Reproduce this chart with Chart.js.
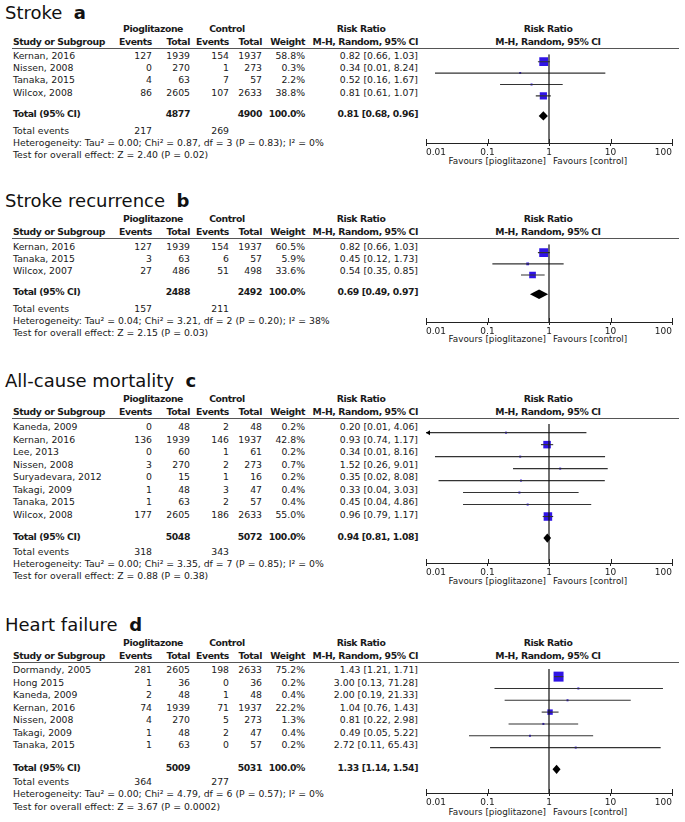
<!DOCTYPE html>
<html>
<head>
<meta charset="utf-8">
<script src="https://cdn.jsdelivr.net/npm/chart.js@4/dist/chart.umd.min.js"></script>
<style>
html, body { margin: 0; padding: 0; background: #fff; overflow: hidden; }
#page { position: relative; width: 685px; height: 822px; font-family: "DejaVu Sans", sans-serif; color: #1a1a1a; }
.t { position: absolute; white-space: nowrap; line-height: 1; font-size: 9.3px; }
.b { font-weight: bold; letter-spacing: -0.4px; }
.sm { font-size: 8.8px; }
.title { font-size: 18px; color: #111; }
.title b { letter-spacing: 0; }
.rule { position: absolute; left: 12px; width: 667px; height: 0; border-top: 1px solid #555; }
.plot { position: absolute; left: 410px; width: 274px; }
</style>
</head>
<body>
<div id="page"></div>
<script>
// ---- a: Stroke
var strokeStudies = ['Kernan, 2016', 'Nissen, 2008', 'Tanaka, 2015', 'Wilcox, 2008'];
var strokePioEvents = [127, 0, 4, 86];
var strokePioTotal = [1939, 270, 63, 2605];
var strokeCtlEvents = [154, 1, 7, 107];
var strokeCtlTotal = [1937, 273, 57, 2633];
var strokeWeight = [58.8, 0.3, 2.2, 38.8];
var strokeRR = [0.82, 0.34, 0.52, 0.81];
var strokeLo = [0.66, 0.014, 0.16, 0.61];
var strokeHi = [1.03, 8.24, 1.67, 1.07];
var strokePooled = [0.81, 0.68, 0.96];
var strokeTotals = [4877, 4900];
var strokeTotalEvents = [217, 269];
var strokeHet = 'Heterogeneity: Tau² = 0.00; Chi² = 0.87, df = 3 (P = 0.83); I² = 0%';
var strokeTest = 'Test for overall effect: Z = 2.40 (P = 0.02)';

// ---- b: Stroke recurrence
var recurStudies = ['Kernan, 2016', 'Tanaka, 2015', 'Wilcox, 2007'];
var recurPioEvents = [127, 3, 27];
var recurPioTotal = [1939, 63, 486];
var recurCtlEvents = [154, 6, 51];
var recurCtlTotal = [1937, 57, 498];
var recurWeight = [60.5, 5.9, 33.6];
var recurRR = [0.82, 0.45, 0.54];
var recurLo = [0.66, 0.12, 0.35];
var recurHi = [1.03, 1.73, 0.85];
var recurPooled = [0.69, 0.49, 0.97];
var recurTotals = [2488, 2492];
var recurTotalEvents = [157, 211];
var recurHet = 'Heterogeneity: Tau² = 0.04; Chi² = 3.21, df = 2 (P = 0.20); I² = 38%';
var recurTest = 'Test for overall effect: Z = 2.15 (P = 0.03)';

// ---- c: All-cause mortality
var mortStudies = ['Kaneda, 2009', 'Kernan, 2016', 'Lee, 2013', 'Nissen, 2008', 'Suryadevara, 2012', 'Takagi, 2009', 'Tanaka, 2015', 'Wilcox, 2008'];
var mortPioEvents = [0, 136, 0, 3, 0, 1, 1, 177];
var mortPioTotal = [48, 1939, 60, 270, 15, 48, 63, 2605];
var mortCtlEvents = [2, 146, 1, 2, 1, 3, 2, 186];
var mortCtlTotal = [48, 1937, 61, 273, 16, 47, 57, 2633];
var mortWeight = [0.2, 42.8, 0.2, 0.7, 0.2, 0.4, 0.4, 55.0];
var mortRR = [0.20, 0.93, 0.34, 1.52, 0.35, 0.33, 0.45, 0.96];
var mortLo = [0.0098, 0.74, 0.014, 0.26, 0.016, 0.04, 0.04, 0.79];
var mortHi = [4.06, 1.17, 8.16, 9.01, 8.08, 3.03, 4.86, 1.17];
var mortPooled = [0.94, 0.81, 1.08];
var mortTotals = [5048, 5072];
var mortTotalEvents = [318, 343];
var mortHet = 'Heterogeneity: Tau² = 0.00; Chi² = 3.35, df = 7 (P = 0.85); I² = 0%';
var mortTest = 'Test for overall effect: Z = 0.88 (P = 0.38)';

// ---- d: Heart failure
var hfStudies = ['Dormandy, 2005', 'Hong 2015', 'Kaneda, 2009', 'Kernan, 2016', 'Nissen, 2008', 'Takagi, 2009', 'Tanaka, 2015'];
var hfPioEvents = [281, 1, 2, 74, 4, 1, 1];
var hfPioTotal = [2605, 36, 48, 1939, 270, 48, 63];
var hfCtlEvents = [198, 0, 1, 71, 5, 2, 0];
var hfCtlTotal = [2633, 36, 48, 1937, 273, 47, 57];
var hfWeight = [75.2, 0.2, 0.4, 22.2, 1.3, 0.4, 0.2];
var hfRR = [1.43, 3.00, 2.00, 1.04, 0.81, 0.49, 2.72];
var hfLo = [1.21, 0.13, 0.19, 0.76, 0.22, 0.05, 0.11];
var hfHi = [1.71, 71.28, 21.33, 1.43, 2.98, 5.22, 65.43];
var hfPooled = [1.33, 1.14, 1.54];
var hfTotals = [5009, 5031];
var hfTotalEvents = [364, 277];
var hfHet = 'Heterogeneity: Tau² = 0.00; Chi² = 4.79, df = 6 (P = 0.57); I² = 0%';
var hfTest = 'Test for overall effect: Z = 3.67 (P = 0.0002)';

var tickVals = [0.01, 0.1, 1, 10, 100];
var tickLabels = ['0.01', '0.1', '1', '10', '100'];

var panels = [
  {title: 'Stroke', letter: 'a', studies: strokeStudies, pioE: strokePioEvents, pioT: strokePioTotal, ctlE: strokeCtlEvents, ctlT: strokeCtlTotal, wt: strokeWeight, rr: strokeRR, lo: strokeLo, hi: strokeHi, pooled: strokePooled, totals: strokeTotals, tev: strokeTotalEvents, het: strokeHet, test: strokeTest,
   L: {title: 13, h1: 29, h2: 42, line: 48, row0: 56, step: 12.2, total: 114, te: 131, het: 142.5, test: 155, axis: 143, fav: 161}},
  {title: 'Stroke recurrence', letter: 'b', studies: recurStudies, pioE: recurPioEvents, pioT: recurPioTotal, ctlE: recurCtlEvents, ctlT: recurCtlTotal, wt: recurWeight, rr: recurRR, lo: recurLo, hi: recurHi, pooled: recurPooled, totals: recurTotals, tev: recurTotalEvents, het: recurHet, test: recurTest,
   L: {title: 201, h1: 219, h2: 232, line: 238, row0: 247, step: 12.1, total: 292, te: 309, het: 321, test: 333, axis: 322, fav: 339}},
  {title: 'All-cause mortality', letter: 'c', studies: mortStudies, pioE: mortPioEvents, pioT: mortPioTotal, ctlE: mortCtlEvents, ctlT: mortCtlTotal, wt: mortWeight, rr: mortRR, lo: mortLo, hi: mortHi, pooled: mortPooled, totals: mortTotals, tev: mortTotalEvents, het: mortHet, test: mortTest,
   L: {title: 381, h1: 399, h2: 412, line: 418, row0: 427, step: 12.5, total: 537, te: 552, het: 563.5, test: 576, axis: 563, fav: 581}},
  {title: 'Heart failure', letter: 'd', studies: hfStudies, pioE: hfPioEvents, pioT: hfPioTotal, ctlE: hfCtlEvents, ctlT: hfCtlTotal, wt: hfWeight, rr: hfRR, lo: hfLo, hi: hfHi, pooled: hfPooled, totals: hfTotals, tev: hfTotalEvents, het: hfHet, test: hfTest,
   L: {title: 625, h1: 643, h2: 656, line: 662, row0: 670, step: 12.5, total: 768, te: 782, het: 794, test: 807, axis: 793, fav: 812}}
];

var col = {study: 13, pioE: 152, pioT: 190, ctlE: 229, ctlT: 262, wt: 305, rr: 418};
var page = document.getElementById('page');

function txt(x, y, s, align, cls) {
  var el = document.createElement('div');
  el.className = 't' + (cls ? ' ' + cls : '');
  el.textContent = s;
  el.style.left = x + 'px';
  el.style.top = y + 'px';
  var tx = align == 'r' ? '-100%' : (align == 'c' ? '-50%' : '0');
  el.style.transform = 'translate(' + tx + ',-50%)';
  page.appendChild(el);
  return el;
}
function ci(r, l, h) { return r.toFixed(2) + ' [' + l.toFixed(2) + ', ' + h.toFixed(2) + ']'; }

var forestExtras = {
  id: 'forestExtras',
  afterDatasetsDraw: function(chart, args, opts) {
    var xs = chart.scales.x, ys = chart.scales.y, ctx = chart.ctx;
    ctx.save();
    ctx.fillStyle = '#000';
    // pooled diamond
    var yc = ys.getPixelForValue(opts.totalRow);
    ctx.beginPath();
    ctx.moveTo(xs.getPixelForValue(opts.pooled[1]), yc);
    ctx.lineTo(xs.getPixelForValue(opts.pooled[0]), yc - opts.dh);
    ctx.lineTo(xs.getPixelForValue(opts.pooled[2]), yc);
    ctx.lineTo(xs.getPixelForValue(opts.pooled[0]), yc + opts.dh);
    ctx.closePath();
    ctx.fill();
    // arrows for CIs running off the scale
    opts.lo.forEach(function(v, i) {
      if (v < xs.min) {
        var y = ys.getPixelForValue(i), x = xs.left;
        ctx.beginPath();
        ctx.moveTo(x, y); ctx.lineTo(x + 4, y - 2.5); ctx.lineTo(x + 4, y + 2.5);
        ctx.closePath(); ctx.fill();
      }
    });
    // upper half of the axis tick marks
    ctx.strokeStyle = '#222';
    ctx.lineWidth = 1;
    ctx.beginPath();
    tickVals.forEach(function(v) {
      var x = Math.round(xs.getPixelForValue(v)) + 0.5;
      ctx.moveTo(x, xs.top - 4);
      ctx.lineTo(x, xs.top);
    });
    ctx.stroke();
    ctx.restore();
  }
};

panels.forEach(function(p) {
  var L = p.L;
  var t = txt(5, L.title, '', 'l', 'title');
  t.innerHTML = p.title + '&nbsp; <b>' + p.letter + '</b>';

  txt(153, L.h1, 'Pioglitazone', 'c', 'b');
  txt(227, L.h1, 'Control', 'c', 'b');
  txt(361, L.h1, 'Risk Ratio', 'c', 'b');
  txt(548, L.h1, 'Risk Ratio', 'c', 'b');
  txt(col.study, L.h2, 'Study or Subgroup', 'l', 'b');
  txt(col.pioE, L.h2, 'Events', 'r', 'b');
  txt(col.pioT, L.h2, 'Total', 'r', 'b');
  txt(col.ctlE, L.h2, 'Events', 'r', 'b');
  txt(col.ctlT, L.h2, 'Total', 'r', 'b');
  txt(col.wt, L.h2, 'Weight', 'r', 'b');
  txt(col.rr, L.h2, 'M-H, Random, 95% CI', 'r', 'b');
  txt(548, L.h2, 'M-H, Random, 95% CI', 'c', 'b');

  var rule = document.createElement('div');
  rule.className = 'rule';
  rule.style.top = L.line + 'px';
  page.appendChild(rule);

  p.studies.forEach(function(s, i) {
    var y = L.row0 + i * L.step;
    txt(col.study, y, s, 'l');
    txt(col.pioE, y, String(p.pioE[i]), 'r');
    txt(col.pioT, y, String(p.pioT[i]), 'r');
    txt(col.ctlE, y, String(p.ctlE[i]), 'r');
    txt(col.ctlT, y, String(p.ctlT[i]), 'r');
    txt(col.wt, y, p.wt[i].toFixed(1) + '%', 'r');
    txt(col.rr, y, ci(p.rr[i], p.lo[i], p.hi[i]), 'r');
  });

  txt(col.study, L.total, 'Total (95% CI)', 'l', 'b');
  txt(col.pioT, L.total, String(p.totals[0]), 'r', 'b');
  txt(col.ctlT, L.total, String(p.totals[1]), 'r', 'b');
  txt(col.wt, L.total, '100.0%', 'r', 'b');
  txt(col.rr, L.total, ci(p.pooled[0], p.pooled[1], p.pooled[2]), 'r', 'b');
  txt(col.study, L.te, 'Total events', 'l');
  txt(col.pioE, L.te, String(p.tev[0]), 'r');
  txt(col.ctlE, L.te, String(p.tev[1]), 'r');
  txt(col.study, L.het, p.het, 'l');
  txt(col.study, L.test, p.test, 'l');
  txt(546, L.fav, 'Favours [pioglitazone]', 'r', 'sm');
  txt(553, L.fav, 'Favours [control]', 'l', 'sm');

  // forest plot
  var axisH = 16;
  var H = L.axis - L.line + axisH;
  var box = document.createElement('div');
  box.className = 'plot';
  box.style.top = L.line + 'px';
  box.style.height = H + 'px';
  var cv = document.createElement('canvas');
  cv.width = 274; cv.height = H;
  box.appendChild(cv);
  page.appendChild(box);

  var yMin = (L.line - L.row0) / L.step;
  var yMax = (L.axis - L.row0) / L.step;
  var totalRow = (L.total - L.row0) / L.step;

  var datasets = [{
    data: [{x: 1, y: yMin}, {x: 1, y: yMax}],
    showLine: true, borderColor: '#111', borderWidth: 1.2, pointRadius: 0
  }];
  p.studies.forEach(function(s, i) {
    datasets.push({
      data: [{x: p.lo[i], y: i}, {x: p.hi[i], y: i}],
      showLine: true, borderColor: '#333', borderWidth: 1.1, pointRadius: 0
    });
  });
  datasets.push({
    data: p.rr.map(function(v, i) { return {x: v, y: i}; }),
    pointStyle: 'rect',
    pointRadius: p.wt.map(function(w) { return Math.max(2, 1.15 * Math.sqrt(w)) / 1.414; }),
    backgroundColor: 'rgb(48,20,230)', borderWidth: 0
  });

  new Chart(cv, {
    type: 'scatter',
    data: {datasets: datasets},
    options: {
      responsive: false,
      animation: false,
      events: [],
      layout: {padding: {left: 16, right: 12, top: 0, bottom: 0}},
      plugins: {
        legend: {display: false},
        tooltip: {enabled: false},
        forestExtras: {pooled: p.pooled, totalRow: totalRow, lo: p.lo, dh: 4.7}
      },
      scales: {
        y: {type: 'linear', display: false, reverse: true, min: yMin, max: yMax},
        x: {
          type: 'logarithmic', min: 0.01, max: 100,
          afterBuildTicks: function(s) { s.ticks = tickVals.map(function(v) { return {value: v}; }); },
          afterFit: function(s) { s.height = axisH; },
          ticks: {
            autoSkip: false, maxRotation: 0, padding: 1, color: '#1a1a1a', align: 'inner',
            font: {family: 'DejaVu Sans', size: 9},
            callback: function(v) { return tickLabels[tickVals.indexOf(v)]; }
          },
          grid: {display: true, drawOnChartArea: false, drawTicks: true, tickLength: 3, color: '#222'},
          border: {display: true, color: '#222', width: 1}
        }
      }
    },
    plugins: [forestExtras]
  });
});
</script>
</body>
</html>
